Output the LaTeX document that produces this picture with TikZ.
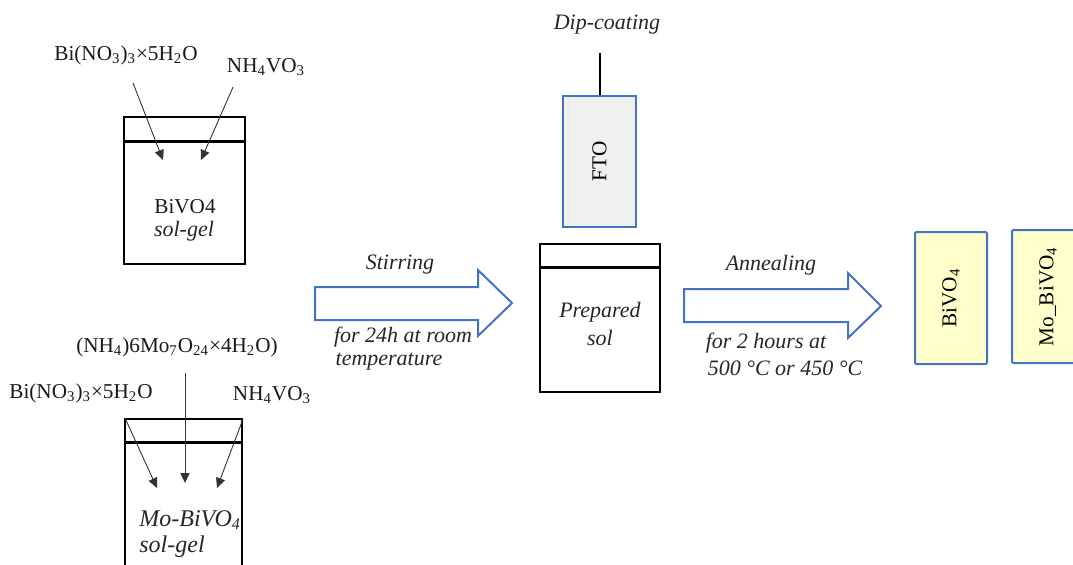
\documentclass[tikz,border=0pt]{standalone}
\usepackage{fontspec}
\setmainfont{Liberation Serif}[
  UprightFont    = * ,
  ItalicFont     = * Italic ,
  BoldFont       = * Bold ,
  BoldItalicFont = * Bold Italic ]
\usetikzlibrary{arrows.meta, positioning}
\definecolor{edgeblue}{HTML}{4472C4}
\definecolor{ftogray}{HTML}{F0F0F0}
\definecolor{filmyellow}{HTML}{FFFFCC}
\tikzset{
  beaker/.style ={draw, line width=0.8pt, inner sep=0pt},
  lid/.style    ={line width=1.5pt},
  feed/.style   ={-{Triangle[length=5pt, width=4.6pt]}, line width=0.45pt, black!80},
  chem/.style   ={font=\fontsize{10.6}{13}\selectfont, text=black!90, inner sep=1pt},
  capt/.style   ={font=\fontsize{11}{13}\selectfont\itshape, text=black!85, inner sep=1pt},
  flow/.style   ={draw=edgeblue, line width=1pt, fill=white, line join=miter},
  fto/.style    ={draw=edgeblue, fill=ftogray, line width=1pt, inner sep=0pt,
                  font=\fontsize{10.6}{13}\selectfont},
  film/.style   ={draw=edgeblue, fill=filmyellow, line width=1pt, inner sep=0pt,
                  rounded corners=0.6pt, font=\fontsize{10.6}{13}\selectfont},
}

\begin{document}
\begin{tikzpicture}[x=0.5pt, y=-0.5pt]
  \useasboundingbox (0,0) rectangle (1073,564);

  % TOP LEFT: BiVO4 sol-gel
  \node[beaker, minimum width=60.5pt, minimum height=73.5pt] (gelA) at (184.5,190.5) {};
  \draw[lid] ([yshift=-12.5pt]gelA.north west) -- ([yshift=-12.5pt]gelA.north east);
  \node[chem] (biA) at (126,55) {Bi(NO\textsubscript{3})\textsubscript{3}×5H\textsubscript{2}O};
  \node[chem] (nhA) at (266,67) {NH\textsubscript{4}VO\textsubscript{3}};
  \coordinate (biAin)  at (163,160);
  \coordinate (nhAin)  at (201,160);
  \draw[feed] (biA.south) ++(7,16) coordinate (biAout) -- (biAin);
  \draw[feed] (nhA.south) ++(-33,9) coordinate (nhAout) -- (nhAin);
  \node[chem] (gelAtxt) at (185,207) {BiVO4};
  \node[capt] at (184,231) {sol-gel};

  % BOTTOM LEFT: Mo-BiVO4 sol-gel
  \node[beaker, minimum width=58.5pt, minimum height=90.5pt] (gelB) at (183.5,509.5) {};
  \draw[lid] ([yshift=-12pt]gelB.north west) -- ([yshift=-12pt]gelB.north east);
  \node[chem] (moB) at (177,347) {(NH\textsubscript{4})6Mo\textsubscript{7}O\textsubscript{24}×4H\textsubscript{2}O)};
  \node[chem] (biB) at (81,393) {Bi(NO\textsubscript{3})\textsubscript{3}×5H\textsubscript{2}O};
  \node[chem] (nhB) at (272,395) {NH\textsubscript{4}VO\textsubscript{3}};
  \coordinate (biBout) at (125,418);
  \coordinate (nhBout) at (243,419);
  \draw[feed] (biBout) -- (157,488) coordinate (biBin);
  \draw[feed] (moB.south) ++(8,14) coordinate (moBout) -- (185,483) coordinate (moBin);
  \draw[feed] (nhBout) -- (217,488) coordinate (nhBin);
  \node[capt, anchor=west, font=\fontsize{12}{14}\selectfont\itshape] at (137,520) {Mo-BiVO\textsubscript{4}};
  \node[capt, anchor=west, font=\fontsize{12}{14}\selectfont\itshape] at (137,547) {sol-gel};

  % stirring step
  \draw[flow] (315,287) -- (478,287) -- (478,270) -- (512,303) -- (478,336)
              -- (478,320) -- (315,320) -- cycle;
  \node[capt] at (400,265) {Stirring};
  \node[capt] at (403,337) {for 24h at room};
  \node[capt] at (389,362) {temperature};

  % dip-coating of FTO in the prepared sol
  \node[beaker, minimum width=60pt, minimum height=74pt] (sol) at (600,318) {};
  \draw[lid] ([yshift=-12pt]sol.north west) -- ([yshift=-12pt]sol.north east);
  \node[capt] at (600,312) {Prepared};
  \node[capt] at (600,338) {sol};
  \node[fto, minimum width=36.5pt, minimum height=65.5pt] (fto) at (599.5,161.5) {\rotatebox{90}{FTO}};
  \node[capt] (dip) at (607,25) {Dip-coating};
  \coordinate (rod) at (599.5,53);
  \draw[line width=1pt] (rod) -- (fto.north);

  % annealing step
  \draw[flow] (684,289) -- (848,289) -- (848,273) -- (881,306) -- (848,338)
              -- (848,322) -- (684,322) -- cycle;
  \node[capt] at (771,265) {Annealing};
  \node[capt] at (766,343) {for 2 hours at};
  \node[capt] at (785,368) {500 °C or 450 °C};

  % annealed films
  \node[film, minimum width=36pt, minimum height=66pt] (bivo) at (951,298) {\rotatebox{90}{BiVO\textsubscript{4}}};
  \node[film, minimum width=36pt, minimum height=66.5pt] (mobivo) at (1048,296.5) {\rotatebox{90}{Mo\_BiVO\textsubscript{4}}};
\end{tikzpicture}
\end{document}
